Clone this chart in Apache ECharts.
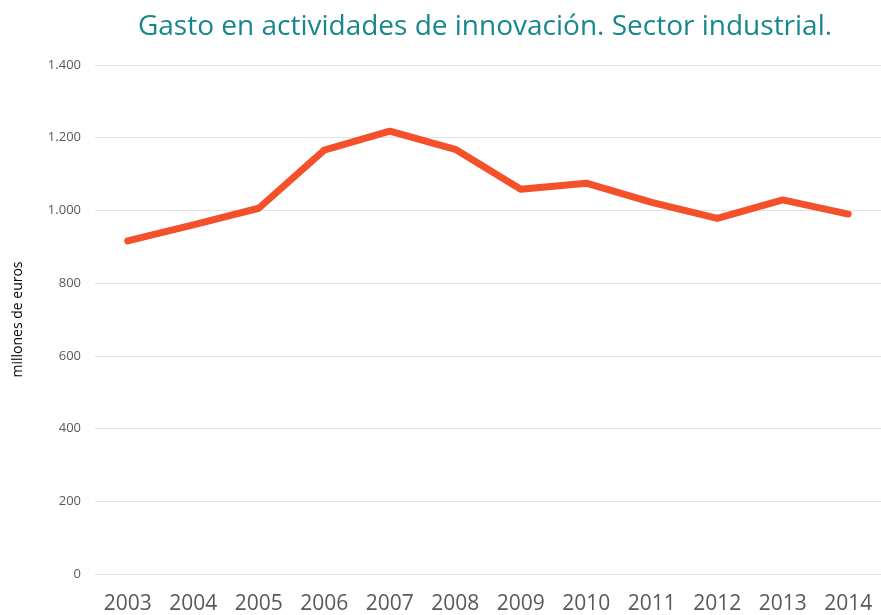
<!DOCTYPE html>
<html>
<head>
<meta charset="utf-8">
<script src="https://cdn.jsdelivr.net/npm/echarts@6/dist/echarts.min.js"></script>
<style>
  html, body { margin: 0; padding: 0; background: #fff; }
  #chart { width: 881px; height: 615px; }
</style>
</head>
<body>
<div id="chart"></div>
<script>
// years on the x axis
var years = ['2003', '2004', '2005', '2006', '2007', '2008', '2009', '2010', '2011', '2012', '2013', '2014'];
// gasto, millones de euros
var gasto = [916, 960, 1006, 1166, 1218, 1168, 1058, 1075, 1022, 978, 1029, 990];

var chart = echarts.init(document.getElementById('chart'));

function fmtMiles(v) {
    // 1400 -> 1.400
    return String(v).replace(/\B(?=(\d{3})+(?!\d))/g, '.');
}

var option = {
    animation: false,
    title: {
        text: 'Gasto en actividades de innovación. Sector industrial.',
        left: 480,
        textAlign: 'center',
        top: 8,
        textStyle: {
            color: '#17878c',
            fontFamily: 'Open Sans',
            fontWeight: 'normal',
            fontSize: 28
        }
    },
    grid: {
        left: 95,
        right: -10,
        top: 65,
        bottom: 41
    },
    xAxis: {
        type: 'category',
        data: years,
        boundaryGap: true,
        axisLine: { show: false },
        axisTick: { show: false },
        axisLabel: {
            color: '#595959',
            fontFamily: 'Open Sans',
            fontSize: 21,
            margin: 20,
            interval: 0
        }
    },
    yAxis: {
        type: 'value',
        min: 0,
        max: 1400,
        interval: 200,
        name: 'millones de euros',
        nameLocation: 'middle',
        nameGap: 70,
        nameTextStyle: {
            color: '#000',
            fontFamily: 'Open Sans',
            fontSize: 14
        },
        axisLine: { show: false },
        axisTick: { show: false },
        splitLine: { lineStyle: { color: '#e3e3e3', width: 1 } },
        axisLabel: {
            color: '#595959',
            fontFamily: 'Open Sans',
            fontSize: 13,
            margin: 14,
            formatter: fmtMiles
        }
    },
    series: [{
        type: 'line',
        data: gasto,
        symbol: 'none',
        lineStyle: { color: '#f4502a', width: 7, cap: 'round', join: 'round' }
    }]
};

chart.setOption(option);
</script>
</body>
</html>
